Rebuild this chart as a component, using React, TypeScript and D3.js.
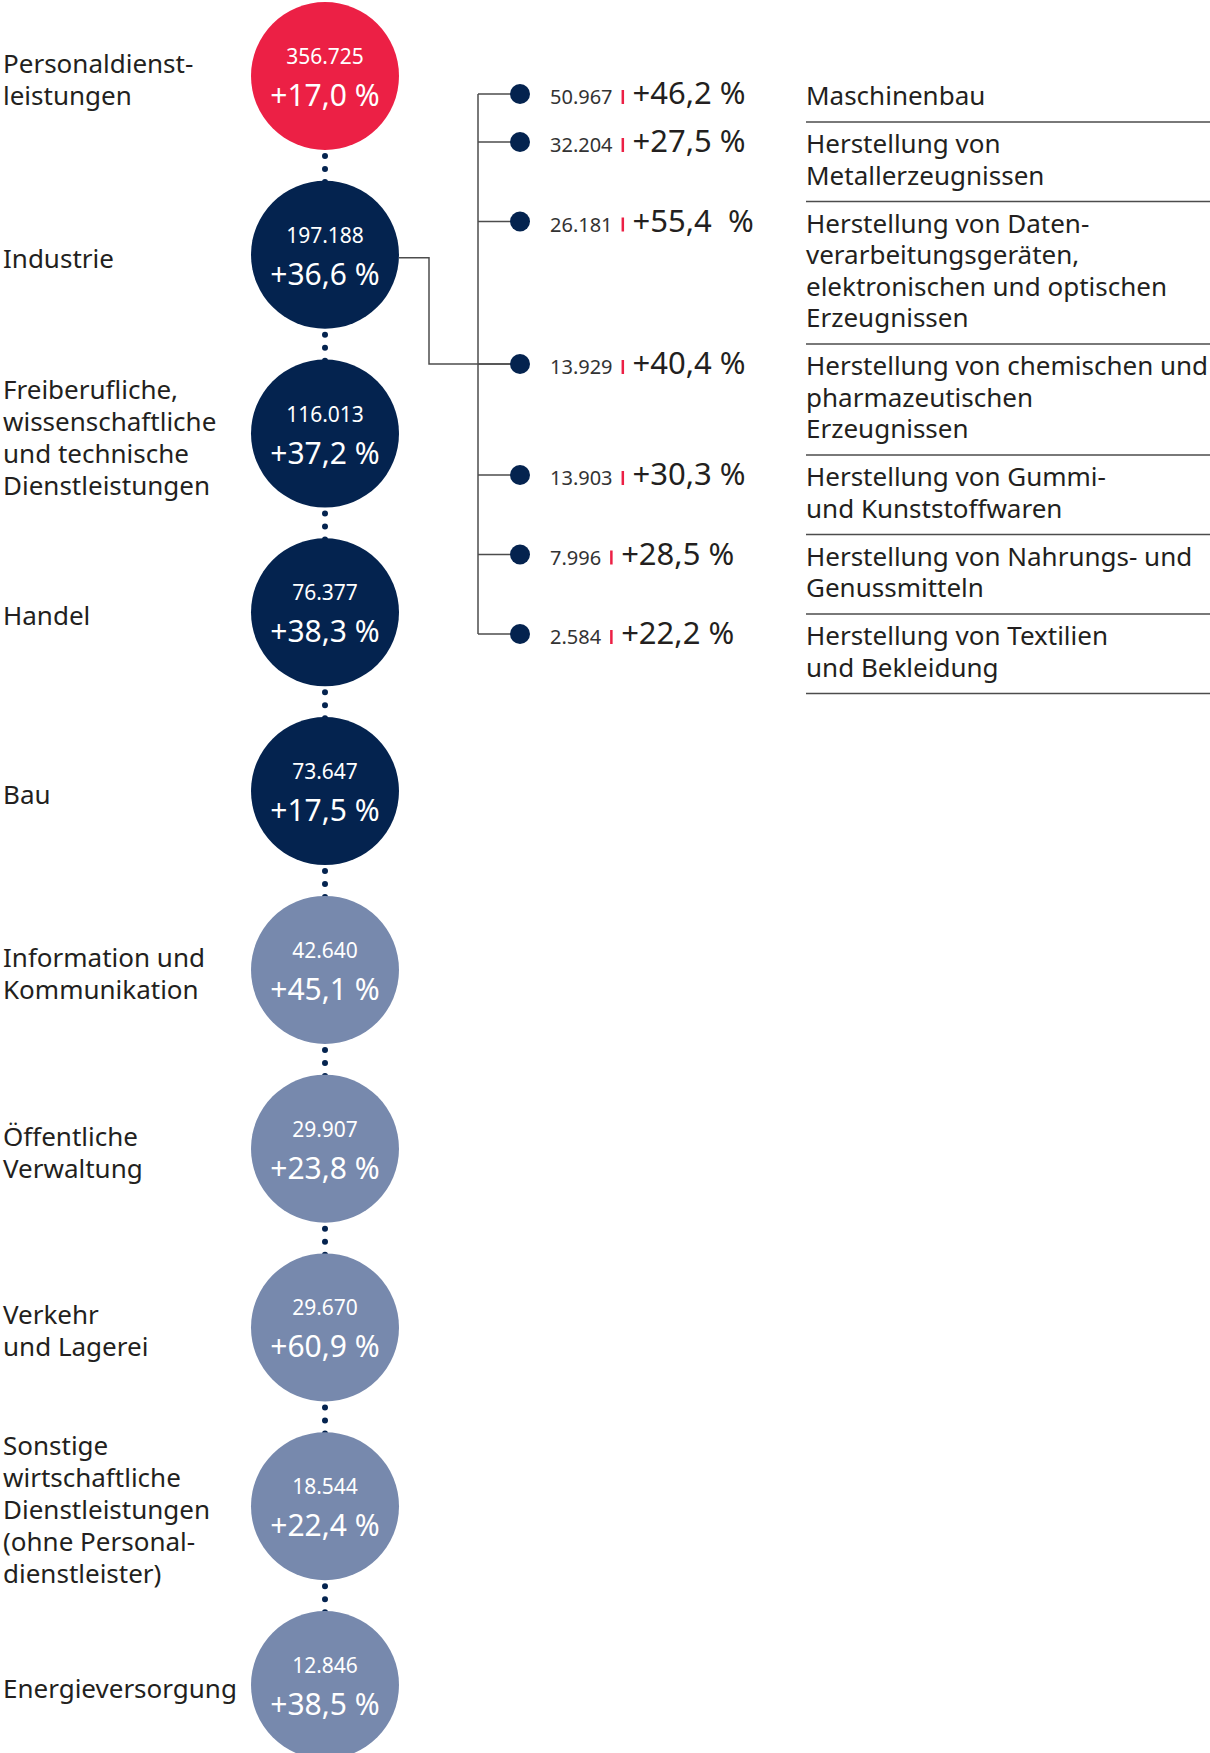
import { useEffect, useRef } from "react";
import * as d3 from "d3";

// main sectors, top to bottom
const sectors = [
  "Personaldienstleistungen",
  "Industrie",
  "Freiberufliche Dienstleistungen",
  "Handel",
  "Bau",
  "Information und Kommunikation",
  "Öffentliche Verwaltung",
  "Verkehr und Lagerei",
  "Sonstige Dienstleistungen",
  "Energieversorgung",
];
const sectorLines = [
  ["Personaldienst-", "leistungen"],
  ["Industrie"],
  ["Freiberufliche,", "wissenschaftliche", "und technische", "Dienstleistungen"],
  ["Handel"],
  ["Bau"],
  ["Information und", "Kommunikation"],
  ["Öffentliche", "Verwaltung"],
  ["Verkehr", "und Lagerei"],
  ["Sonstige", "wirtschaftliche", "Dienstleistungen", "(ohne Personal-", "dienstleister)"],
  ["Energieversorgung"],
];
const sectorCounts = ["356.725", "197.188", "116.013", "76.377", "73.647", "42.640", "29.907", "29.670", "18.544", "12.846"];
const sectorChanges = ["+17,0 %", "+36,6 %", "+37,2 %", "+38,3 %", "+17,5 %", "+45,1 %", "+23,8 %", "+60,9 %", "+22,4 %", "+38,5 %"];
const sectorGroups = ["top", "dark", "dark", "dark", "dark", "light", "light", "light", "light", "light"];

// breakdown of Industrie
const branchLines = [
  ["Maschinenbau"],
  ["Herstellung von", "Metallerzeugnissen"],
  ["Herstellung von Daten-", "verarbeitungsgeräten,", "elektronischen und optischen", "Erzeugnissen"],
  ["Herstellung von chemischen und", "pharmazeutischen", "Erzeugnissen"],
  ["Herstellung von Gummi-", "und Kunststoffwaren"],
  ["Herstellung von Nahrungs- und", "Genussmitteln"],
  ["Herstellung von Textilien", "und Bekleidung"],
];
const branchCounts = ["50.967", "32.204", "26.181", "13.929", "13.903", "7.996", "2.584"];
const branchChanges = ["+46,2 %", "+27,5 %", "+55,4  %", "+40,4 %", "+30,3 %", "+28,5 %", "+22,2 %"];

function App() {
  const ref = useRef<SVGSVGElement>(null);

  useEffect(() => {
    draw();
    // eslint-disable-next-line
  }, []);

  function draw() {
    const svg = d3.select(ref.current);
    svg.selectAll("*").remove();

    const font = "'Noto Sans', sans-serif";
    const ink = "#231f20";
    const navy = "#04234f";
    const cx = 325;
    const r = 74;

    const y = d3.scalePoint<string>().domain(sectors).range([76, 1685]);
    const color = d3.scaleOrdinal<string, string>()
      .domain(["top", "dark", "light"])
      .range(["#ec2045", navy, "#7789ad"]);

    // dotted links between circles
    const links = svg.append("g");
    sectors.slice(1).forEach((s, i) => {
      links.append("line")
        .attr("x1", cx).attr("x2", cx)
        .attr("y1", y(sectors[i])! + r + 6)
        .attr("y2", y(s)!)
        .attr("stroke", navy)
        .attr("stroke-width", 6)
        .attr("stroke-linecap", "round")
        .attr("stroke-dasharray", "0 13");
    });

    // circles
    const node = svg.append("g").selectAll("g")
      .data(sectors)
      .enter()
      .append("g")
      .attr("transform", d => `translate(${cx},${y(d)})`);

    node.append("circle")
      .attr("r", r)
      .attr("fill", (d, i) => color(sectorGroups[i]));

    node.append("text")
      .text((d, i) => sectorCounts[i])
      .attr("y", -12)
      .attr("text-anchor", "middle")
      .attr("font-family", font)
      .attr("font-size", 21)
      .attr("fill", "white");

    node.append("text")
      .text((d, i) => sectorChanges[i])
      .attr("y", 30)
      .attr("text-anchor", "middle")
      .attr("font-family", font)
      .attr("font-size", 30)
      .attr("fill", "white");

    // sector labels on the left
    const lh = 32;
    sectors.forEach((s, i) => {
      const lines = sectorLines[i];
      const first = y(s)! - (lines.length - 1) * lh / 2 + 13;
      const t = svg.append("text")
        .attr("font-family", font)
        .attr("font-size", 26)
        .attr("fill", ink);
      lines.forEach((l, k) => {
        t.append("tspan").attr("x", 3).attr("y", first + k * lh).text(l);
      });
    });

    // branch labels on the right
    const rlh = 31.5;
    const lx = 806;
    let top = 74;
    const rows = branchLines.map(lines => {
      const first = top + 31;
      const rule = first + (lines.length - 1) * rlh + 17;
      top = rule;
      return { first, rule };
    });

    branchLines.forEach((lines, i) => {
      const t = svg.append("text")
        .attr("font-family", font)
        .attr("font-size", 26)
        .attr("fill", ink);
      lines.forEach((l, k) => {
        t.append("tspan").attr("x", lx).attr("y", rows[i].first + k * rlh).text(l);
      });
      svg.append("line")
        .attr("x1", lx).attr("x2", 1210)
        .attr("y1", rows[i].rule).attr("y2", rows[i].rule)
        .attr("stroke", "#4d4d4d")
        .attr("stroke-width", 1.5);
    });

    // tree connectors
    const dx = 520;
    const dotY = rows.map(d => d.first - 11);
    const stem = 478;
    const tree = svg.append("g")
      .attr("fill", "none")
      .attr("stroke", "#4d4d4d")
      .attr("stroke-width", 1.5);

    tree.append("line")
      .attr("x1", stem).attr("x2", stem)
      .attr("y1", dotY[0]).attr("y2", dotY[dotY.length - 1]);

    dotY.forEach(d => {
      tree.append("line")
        .attr("x1", stem).attr("x2", dx)
        .attr("y1", d).attr("y2", d);
    });

    const yi = y("Industrie")! + 3;
    tree.append("path")
      .attr("d", `M${cx + r},${yi}H429V${dotY[3]}H${dx}`);

    // branch dots and values
    dotY.forEach((d, i) => {
      svg.append("circle")
        .attr("cx", dx).attr("cy", d).attr("r", 10)
        .attr("fill", navy);

      const base = d + 10;
      const count = svg.append("text")
        .text(branchCounts[i])
        .attr("x", 550).attr("y", base)
        .attr("font-family", font)
        .attr("font-size", 20)
        .attr("fill", "#333");

      const w = (count.node() as SVGTextElement).getComputedTextLength();
      const bx = 550 + w + 9;

      svg.append("rect")
        .attr("x", bx).attr("y", base - 14)
        .attr("width", 2.5).attr("height", 14)
        .attr("fill", "#ec2045");

      svg.append("text")
        .text(branchChanges[i])
        .attr("x", bx + 11).attr("y", base)
        .attr("font-family", font)
        .attr("font-size", 31)
        .attr("fill", ink)
        .style("white-space", "pre");
    });
  }

  return (
    <div>
      <svg ref={ref} width={1210} height={1753} style={{ position: "absolute", left: 0, top: 0 }}>
      </svg>
    </div>
  );
}

export default App;
